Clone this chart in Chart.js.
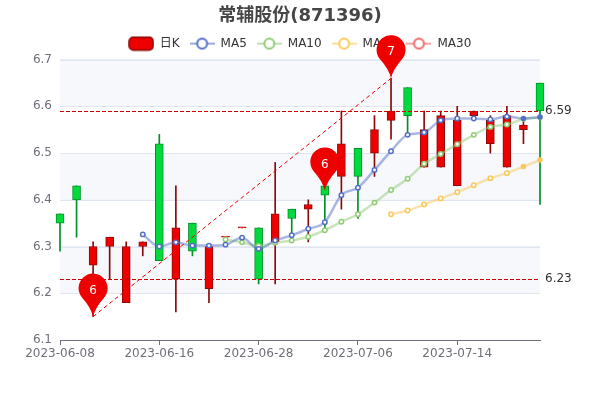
<!DOCTYPE html>
<html>
<head>
<meta charset="utf-8">
<style>
    html, body { margin: 0; padding: 0; background: #fff; }
    #wrap { width: 600px; height: 400px; }
</style>
<script src="https://cdn.jsdelivr.net/npm/chart.js@4"></script>
</head>
<body>
<div id="wrap"><canvas id="chart"></canvas></div>
<script>
const dates = ['2023-06-08','2023-06-09','2023-06-12','2023-06-13','2023-06-14','2023-06-15','2023-06-16',
    '2023-06-19','2023-06-20','2023-06-21','2023-06-26','2023-06-27','2023-06-28',
    '2023-06-29','2023-06-30','2023-07-03','2023-07-04','2023-07-05','2023-07-06',
    '2023-07-07','2023-07-10','2023-07-11','2023-07-12','2023-07-13','2023-07-14',
    '2023-07-17','2023-07-18','2023-07-19','2023-07-20','2023-07-21'];

const opens  = [6.37,6.43,6.26,6.30,6.18,6.30,6.52,6.23,6.35,6.21,6.32,6.34,6.34,6.31,6.38,6.38,6.43,6.45,6.51,6.50,6.57,6.64,6.47,6.47,6.43,6.58,6.52,6.47,6.55,6.65];
const closes = [6.35,6.40,6.30,6.32,6.30,6.31,6.27,6.34,6.29,6.30,6.32,6.34,6.23,6.37,6.36,6.39,6.41,6.52,6.45,6.55,6.59,6.58,6.55,6.58,6.57,6.59,6.57,6.58,6.56,6.59];
const lows   = [6.29,6.32,6.15,6.23,6.18,6.28,6.27,6.16,6.28,6.18,6.32,6.34,6.22,6.22,6.31,6.31,6.34,6.38,6.36,6.45,6.53,6.54,6.47,6.47,6.43,6.58,6.50,6.47,6.52,6.39];
const highs  = [6.37,6.43,6.31,6.32,6.31,6.31,6.54,6.43,6.35,6.30,6.32,6.34,6.34,6.48,6.38,6.40,6.43,6.59,6.51,6.58,6.66,6.64,6.59,6.59,6.60,6.59,6.58,6.60,6.57,6.65];

const ma5  = [null,null,null,null,null,6.326,6.300,6.309,6.302,6.302,6.304,6.319,6.295,6.313,6.324,6.338,6.352,6.410,6.426,6.464,6.504,6.539,6.544,6.570,6.574,6.574,6.572,6.578,6.574,6.577];
const ma10 = [null,null,null,null,null,null,null,null,null,null,6.315,6.309,6.301,6.308,6.313,6.321,6.335,6.353,6.369,6.394,6.421,6.445,6.477,6.498,6.519,6.539,6.556,6.561,6.573,6.576];
const ma20 = [null,null,null,null,null,null,null,null,null,null,null,null,null,null,null,null,null,null,null,null,6.369,6.377,6.390,6.403,6.416,6.431,6.446,6.457,6.471,6.485];
const ma30 = [];

const pinIndex = [2, 16, 20];
const pinValue = [6.15, 6.42, 6.66];
const pinText  = ['6', '6', '7'];
const markValues = [6.59, 6.23];
const trendIndex = [2, 20];
const trendValue = [6.15, 6.66];

const RED = '#ee0000', RED_DARK = '#8a0a0a', GREEN = '#00da3c', GREEN_DARK = '#008f28';
const isUp = i => closes[i] >= opens[i];

// legend icons: canvas so that the line + hollow circle look can be used as pointStyle
function lineIcon(color) {
    const c = document.createElement('canvas');
    c.width = 25; c.height = 14;
    const g = c.getContext('2d');
    g.globalAlpha = 0.6;
    g.strokeStyle = color;
    g.lineWidth = 2;
    g.beginPath(); g.moveTo(0, 7); g.lineTo(25, 7); g.stroke();
    g.globalAlpha = 1;
    g.fillStyle = '#fff';
    g.beginPath(); g.arc(12.5, 7, 5, 0, Math.PI * 2); g.fill(); g.stroke();
    return c;
}
function candleIcon() {
    const c = document.createElement('canvas');
    c.width = 26; c.height = 16;
    const g = c.getContext('2d');
    g.fillStyle = RED;
    g.strokeStyle = RED_DARK;
    g.lineWidth = 1.5;
    g.beginPath(); g.roundRect(1, 1.5, 24, 13, 4); g.fill(); g.stroke();
    return c;
}

const bandPlugin = {
    id: 'bands',
    beforeDatasetsDraw(chart) {
        const { ctx, chartArea, scales: { y } } = chart;
        ctx.save();
        ctx.fillStyle = '#f6f8fc';
        y.ticks.forEach((t, i) => {
            if (i === y.ticks.length - 1 || (y.ticks.length - 1 - i) % 2 !== 1) return;
            const y0 = y.getPixelForValue(t.value);
            const y1 = y.getPixelForValue(y.ticks[i + 1].value);
            ctx.fillRect(chartArea.left, Math.min(y0, y1), chartArea.width, Math.abs(y1 - y0));
        });
        // redraw grid on top of the bands
        ctx.strokeStyle = '#e0e6f1';
        ctx.beginPath();
        y.ticks.forEach(t => {
            const py = Math.round(y.getPixelForValue(t.value)) + 0.5;
            if (t.value <= 6.1) return;
            ctx.moveTo(chartArea.left, py);
            ctx.lineTo(chartArea.right, py);
        });
        ctx.stroke();
        ctx.restore();
    }
};

const markPlugin = {
    id: 'marks',
    afterDatasetsDraw(chart) {
        const { ctx, chartArea, scales: { x, y } } = chart;
        ctx.save();

        // horizontal mark lines
        ctx.strokeStyle = '#cc0000';
        ctx.lineWidth = 1;
        ctx.setLineDash([4, 2]);
        markValues.forEach(v => {
            const py = Math.round(y.getPixelForValue(v)) + 0.5;
            ctx.beginPath();
            ctx.moveTo(chartArea.left, py);
            ctx.lineTo(chartArea.right, py);
            ctx.stroke();
        });

        // trend line between two pins
        ctx.strokeStyle = '#ee0000';
        ctx.setLineDash([4, 3]);
        ctx.beginPath();
        ctx.moveTo(x.getPixelForValue(trendIndex[0]), y.getPixelForValue(trendValue[0]));
        ctx.lineTo(x.getPixelForValue(trendIndex[1]), y.getPixelForValue(trendValue[1]));
        ctx.stroke();
        ctx.setLineDash([]);

        ctx.font = '12px "DejaVu Sans"';
        ctx.fillStyle = '#333';
        ctx.textAlign = 'left';
        ctx.textBaseline = 'middle';
        markValues.forEach(v => {
            ctx.fillText(v.toFixed(2), chartArea.right + 5, y.getPixelForValue(v));
        });

        // pins
        pinIndex.forEach((idx, i) => {
            const px = x.getPixelForValue(idx);
            const tip = y.getPixelForValue(pinValue[i]);
            const r = 14.5, cy = tip - 28.5;
            ctx.fillStyle = RED;
            ctx.beginPath();
            ctx.arc(px, cy, r, Math.PI * 0.78, Math.PI * 0.22);
            ctx.quadraticCurveTo(px + 2, tip - 9, px, tip);
            ctx.quadraticCurveTo(px - 2, tip - 9, px - r * Math.cos(Math.PI * 0.22), cy + r * Math.sin(Math.PI * 0.22));
            ctx.closePath();
            ctx.fill();
            ctx.fillStyle = '#fff';
            ctx.textAlign = 'center';
            ctx.font = '12px "DejaVu Sans"';
            ctx.fillText(pinText[i], px, tip - 26);
        });
        ctx.restore();
    }
};

function maDataset(label, data, color, order) {
    return {
        type: 'line',
        label: label,
        data: data,
        borderColor: color + '80',
        borderWidth: 2.5,
        tension: 0.3,
        cubicInterpolationMode: 'monotone',
        pointRadius: ctx => ctx.dataIndex >= 28 ? 2 : 2.2,
        pointBorderWidth: 1.5,
        pointBorderColor: color,
        pointBackgroundColor: ctx => ctx.dataIndex >= 28 ? color : '#fff',
        clip: false,
        order: order
    };
}

const FONT = '"DejaVu Sans", "Noto Sans CJK SC", sans-serif';

new Chart(document.getElementById('chart'), {
    data: {
        labels: dates,
        datasets: [
            {
                type: 'bar',
                label: 'wick',
                data: dates.map((d, i) => [lows[i], highs[i]]),
                backgroundColor: ctx => isUp(ctx.dataIndex) ? RED_DARK : GREEN_DARK,
                barThickness: 1,
                grouped: false,
                clip: false,
                order: 11
            },
            {
                type: 'bar',
                label: '日K',
                data: dates.map((d, i) => [opens[i], closes[i]]),
                backgroundColor: ctx => isUp(ctx.dataIndex) ? RED : GREEN,
                borderColor: ctx => isUp(ctx.dataIndex) ? RED_DARK : GREEN_DARK,
                borderWidth: 1,
                borderSkipped: false,
                barThickness: 8,
                minBarLength: 1,
                grouped: false,
                clip: false,
                order: 10
            },
            maDataset('MA5', ma5, '#5470c6', 4),
            maDataset('MA10', ma10, '#91cc75', 5),
            maDataset('MA20', ma20, '#fac858', 6),
            maDataset('MA30', ma30, '#ee6666', 7)
        ]
    },
    options: {
        responsive: true,
        maintainAspectRatio: false,
        animation: false,
        plugins: {
            tooltip: { enabled: false },
            title: {
                display: true,
                text: '常辅股份(871396)',
                color: '#464646',
                font: { family: FONT, size: 18, weight: 'bold' },
                padding: { top: 6, bottom: 0 }
            },
            legend: {
                display: true,
                position: 'top',
                labels: {
                    usePointStyle: true,
                    pointStyleWidth: 25,
                    color: '#333',
                    font: { family: FONT, size: 12, lineHeight: 1.3 },
                    padding: 10,
                    generateLabels(chart) {
                        const colors = { MA5: '#5470c6', MA10: '#91cc75', MA20: '#fac858', MA30: '#ee6666' };
                        return chart.data.datasets.map((ds, i) => ({
                            text: ds.label,
                            datasetIndex: i,
                            hidden: ds.label === 'wick',
                            fontColor: '#333',
                            pointStyle: ds.label === '日K' ? candleIcon() : lineIcon(colors[ds.label])
                        })).filter(item => item.text !== 'wick');
                    }
                }
            }
        },
        scales: {
            x: {
                type: 'category',
                offset: false,
                afterFit(scale) { scale.height = 60; },
                afterBuildTicks(scale) { scale.ticks = scale.ticks.filter(t => t.value % 6 === 0); },
                border: { display: true, color: '#6e7079' },
                grid: { offset: false, drawOnChartArea: false, drawTicks: true, tickColor: '#6e7079', tickLength: 5 },
                ticks: {
                    autoSkip: false,
                    maxRotation: 0,
                    color: '#6e7079',
                    padding: 2,
                    font: { family: FONT, size: 12 }
                }
            },
            y: {
                min: 6.1,
                max: 6.7,
                afterFit(scale) { scale.width = 60; },
                border: { display: false },
                grid: { color: '#e0e6f1', drawTicks: false },
                ticks: {
                    stepSize: 0.1,
                    color: '#6e7079',
                    padding: 8,
                    font: { family: FONT, size: 12 },
                    callback: v => v.toFixed(1)
                }
            },
            // empty axis on the right, keeps room for the mark labels while title stays centred
            spacer: {
                type: 'linear',
                position: 'right',
                afterFit(scale) { scale.width = 60; },
                border: { display: false },
                grid: { display: false },
                ticks: { display: false }
            }
        }
    },
    plugins: [bandPlugin, markPlugin]
});
</script>
</body>
</html>
